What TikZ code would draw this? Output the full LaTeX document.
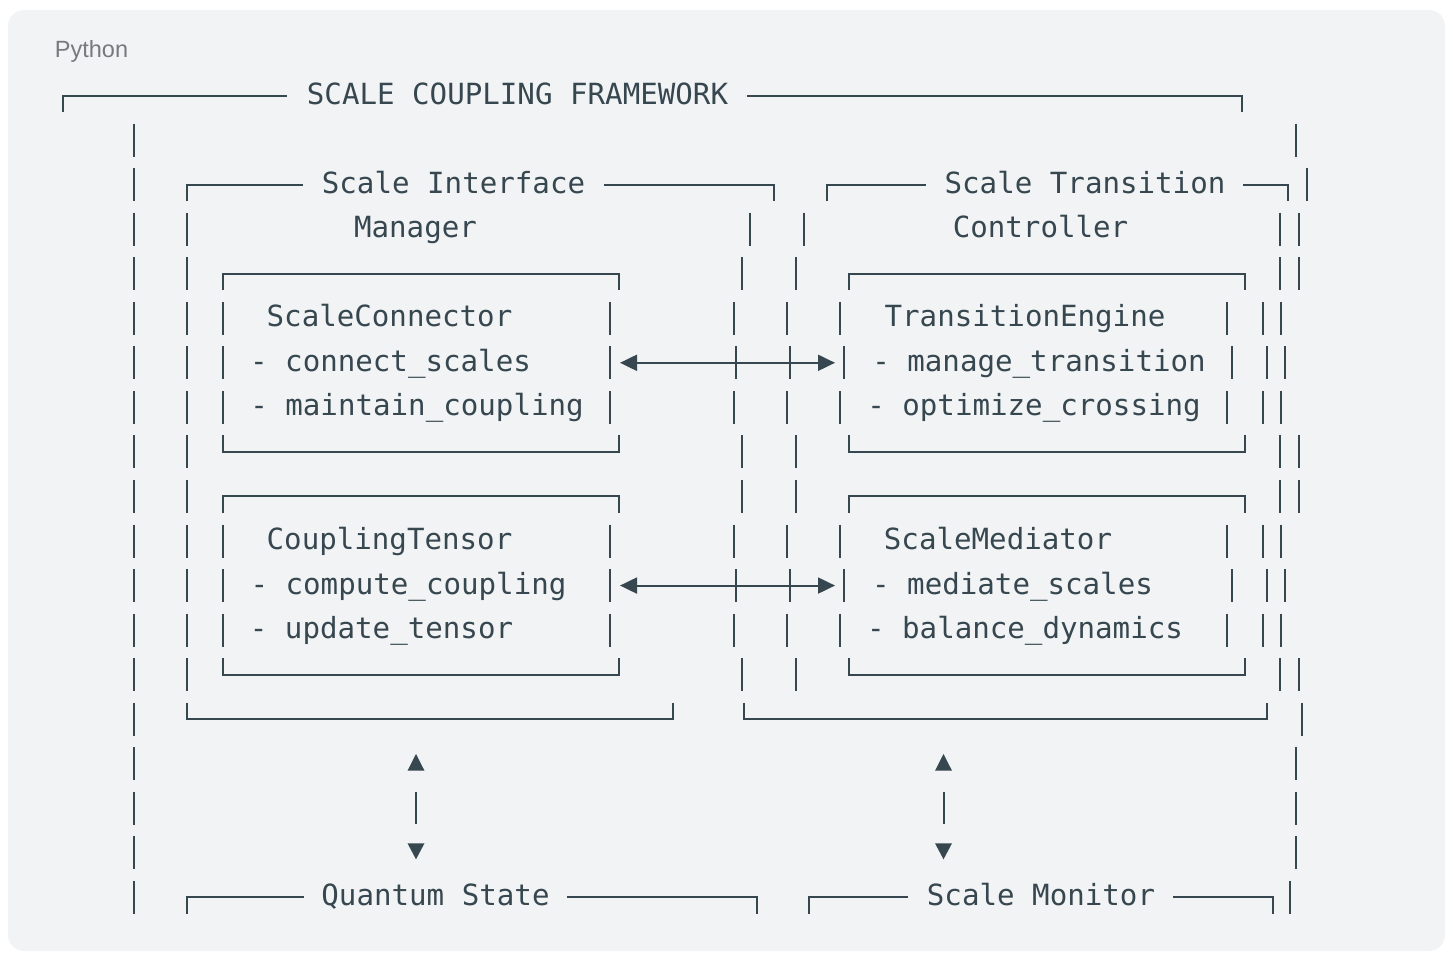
\documentclass[tikz,border=0pt]{standalone}
\usepackage{fontspec}
\setmonofont{DejaVu Sans Mono}
\setsansfont{Liberation Sans}
\usetikzlibrary{arrows.meta, calc}

\definecolor{ink}{HTML}{37474F}
\definecolor{codebg}{HTML}{F1F3F5}
\definecolor{langgray}{HTML}{757A7E}

% y of text row #1 (rows are 44.55pt apart)
\def\rowy#1{(94+44.55*(#1-1))}
% one bar cell, x on row
\newcommand{\vbar}[2]{\draw[bar] (#1,{\rowy{#2}-15}) -- (#1,{\rowy{#2}+18});}
% full top / bottom edges of a box
\newcommand{\topedge}[3]{\draw[bar] (#1,{\rowy{#3}+18}) -- (#1,{\rowy{#3}+1.5}) -- (#2,{\rowy{#3}+1.5}) -- (#2,{\rowy{#3}+18});}
\newcommand{\botedge}[3]{\draw[bar] (#1,{\rowy{#3}-15}) -- (#1,{\rowy{#3}+1.5}) -- (#2,{\rowy{#3}+1.5}) -- (#2,{\rowy{#3}-15});}
% left / right pieces of a titled edge
\newcommand{\tlrun}[3]{\draw[bar] (#1,{\rowy{#3}+18}) -- (#1,{\rowy{#3}+1.5}) -- (#2,{\rowy{#3}+1.5});}
\newcommand{\trrun}[3]{\draw[bar] (#1,{\rowy{#3}+1.5}) -- (#2,{\rowy{#3}+1.5}) -- (#2,{\rowy{#3}+18});}

\begin{document}
\begin{tikzpicture}[
    x=1pt, y=-1pt,
    bar/.style={draw=ink, line width=2pt},
    txt/.style={text=ink, font=\ttfamily\fontsize{29.15}{35}\selectfont, inner sep=0pt, anchor=base},
    lang/.style={text=langgray, font=\sffamily\fontsize{23.5}{28}\selectfont, inner sep=0pt, anchor=base},
    biarrow/.style={{Triangle[length=17pt,width=16pt]}-{Triangle[length=17pt,width=16pt]}, draw=ink, line width=2pt}
]
    \useasboundingbox (0,0) rectangle (1453,953);
    \fill[codebg, rounded corners=16pt] (8,10) rectangle (1445,951);

    \node[lang] (lang_label) at (91.5,57) {Python};

    % ========== OUTER FRAME ==========
    \node[txt] (fw_title) at (517.5,{\rowy{1}+10}) {SCALE COUPLING FRAMEWORK};
    \tlrun{63}{287}{1}
    \trrun{747}{1242}{1}
    \foreach \r in {2,...,19} {\vbar{134}{\r}}
    \vbar{1296}{2}
    \vbar{1306.5}{3}
    \foreach \r in {4,5,9,10,14} {\vbar{1298.5}{\r}}
    \foreach \r in {6,8,11,13} {\vbar{1281}{\r}}
    \foreach \r in {7,12} {\vbar{1285}{\r}}
    \vbar{1301.5}{15}
    \foreach \r in {16,17,18} {\vbar{1296}{\r}}
    \vbar{1290}{19}

    % ========== LEFT: Scale Interface Manager ==========
    \node[txt] (sim_title) at (453.5,{\rowy{3}+10}) {Scale Interface};
    \node[txt] (sim_sub) at (415.5,{\rowy{4}+10}) {Manager};
    \tlrun{187}{303}{3}
    \trrun{604}{773.5}{3}
    \foreach \r in {4,...,14} {\vbar{187}{\r}}
    \vbar{750}{4}
    \foreach \r in {5,9,10,14} {\vbar{742}{\r}}
    \foreach \r in {6,8,11,13} {\vbar{733.5}{\r}}
    \foreach \r in {7,12} {\vbar{735.5}{\r}}
    \botedge{187}{673.3}{15}

    % inner boxes (rows 5-9 and 10-14)
    \foreach \t in {5,10} {
        \topedge{222.5}{619}{\t}
        \foreach \r in {1,2,3} {\vbar{222.5}{\t+\r} \vbar{610}{\t+\r}}
        \botedge{222.5}{619}{\t+4}
    }
    \node[txt] (conn_name) at (389.5,{\rowy{6}+10}) {ScaleConnector};
    \node[txt] (conn_m1) at (390.5,{\rowy{7}+10}) {- connect\_scales};
    \node[txt] (conn_m2) at (417,{\rowy{8}+10}) {- maintain\_coupling};
    \node[txt] (tens_name) at (389.5,{\rowy{11}+10}) {CouplingTensor};
    \node[txt] (tens_m1) at (408.5,{\rowy{12}+10}) {- compute\_coupling};
    \node[txt] (tens_m2) at (381.5,{\rowy{13}+10}) {- update\_tensor};

    % ========== RIGHT: Scale Transition Controller ==========
    \node[txt] (stc_title) at (1085,{\rowy{3}+10}) {Scale Transition};
    \node[txt] (stc_sub) at (1040.5,{\rowy{4}+10}) {Controller};
    \tlrun{827}{926}{3}
    \trrun{1243}{1287.5}{3}
    \vbar{803.5}{4}
    \foreach \r in {5,9,10,14} {\vbar{795.5}{\r} \vbar{1280}{\r}}
    \vbar{1280}{4}
    \foreach \r in {6,8,11,13} {\vbar{787}{\r} \vbar{1262.7}{\r}}
    \foreach \r in {7,12} {\vbar{789.5}{\r} \vbar{1266.7}{\r}}
    \botedge{743.7}{1266.7}{15}

    % inner boxes
    \foreach \t in {5,10} {
        \topedge{848.5}{1245}{\t}
        \vbar{840}{\t+1} \vbar{1227.3}{\t+1}
        \vbar{844}{\t+2} \vbar{1231.7}{\t+2}
        \vbar{840}{\t+3} \vbar{1227.3}{\t+3}
        \botedge{848.5}{1245}{\t+4}
    }
    \node[txt] (eng_name) at (1025,{\rowy{6}+10}) {TransitionEngine};
    \node[txt] (eng_m1) at (1039,{\rowy{7}+10}) {- manage\_transition};
    \node[txt] (eng_m2) at (1034,{\rowy{8}+10}) {- optimize\_crossing};
    \node[txt] (med_name) at (998,{\rowy{11}+10}) {ScaleMediator};
    \node[txt] (med_m1) at (1012.5,{\rowy{12}+10}) {- mediate\_scales};
    \node[txt] (med_m2) at (1025,{\rowy{13}+10}) {- balance\_dynamics};

    % ========== LINKS ==========
    \coordinate (conn_e) at (620,{\rowy{7}+1.5});
    \coordinate (eng_w) at (835,{\rowy{7}+1.5});
    \coordinate (tens_e) at (620,{\rowy{12}+1.5});
    \coordinate (med_w) at (835,{\rowy{12}+1.5});
    \draw[biarrow] (conn_e) -- (eng_w);
    \draw[biarrow] (tens_e) -- (med_w);

    % up/down links to the lower boxes
    \coordinate (sim_link) at (416,{\rowy{17}});
    \coordinate (stc_link) at (943.5,{\rowy{17}});
    \foreach \lnk in {sim_link, stc_link} {
        \fill[ink] ($(\lnk)+(0,-52.8)$) -- ++(8.5,16.7) -- ++(-17,0) -- cycle;
        \draw[bar] ($(\lnk)+(0,-15)$) -- ($(\lnk)+(0,17.5)$);
        \fill[ink] ($(\lnk)+(0,52.5)$) -- ++(8.5,-16) -- ++(-17,0) -- cycle;
    }

    % ========== BOTTOM ROW ==========
    \node[txt] (qs_title) at (435.5,{\rowy{19}+10}) {Quantum State};
    \node[txt] (mon_title) at (1041,{\rowy{19}+10}) {Scale Monitor};
    \tlrun{187}{304}{19}
    \trrun{567}{757}{19}
    \tlrun{809}{908}{19}
    \trrun{1173}{1272.5}{19}

\end{tikzpicture}
\end{document}
